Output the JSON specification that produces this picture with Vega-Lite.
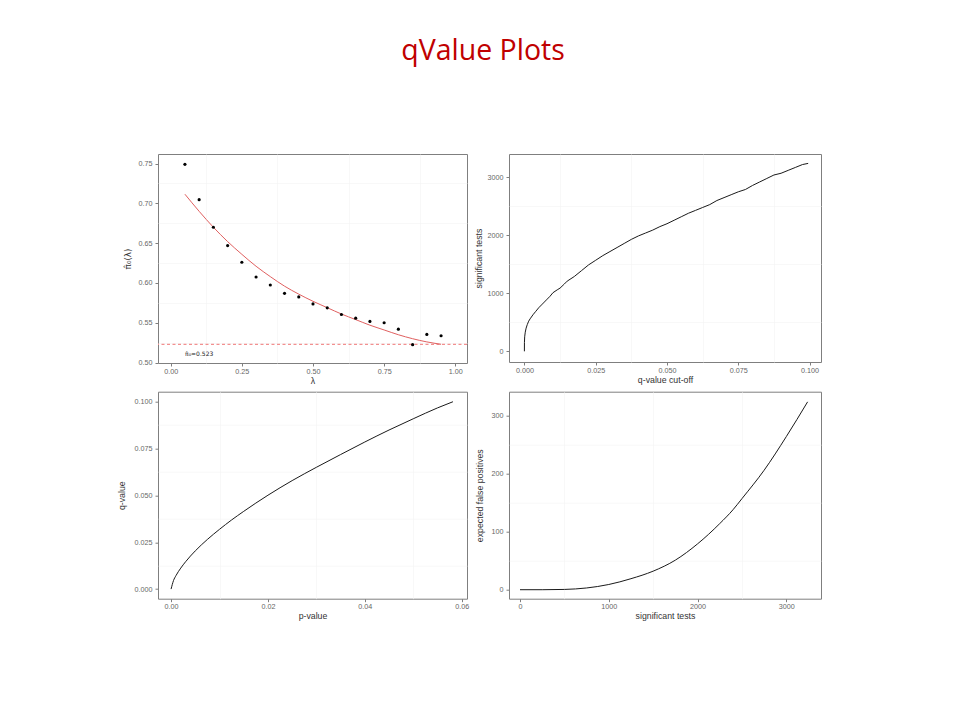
{
  "$schema": "https://vega.github.io/schema/vega-lite/v6.json",
  "background": "white",
  "padding": {"left": 116, "top": 37, "right": 5, "bottom": 5},
  "title": {"text": "qValue Plots", "font": "Open Sans", "fontSize": 28.5, "fontWeight": "normal", "color": "#C00000", "anchor": "middle", "offset": 88, "dx": 14},
  "datasets": {
    "pts": [
      {"lambda": 0.05, "pi0": 0.749}, {"lambda": 0.10, "pi0": 0.7046}, {"lambda": 0.15, "pi0": 0.670},
      {"lambda": 0.20, "pi0": 0.647}, {"lambda": 0.25, "pi0": 0.626}, {"lambda": 0.30, "pi0": 0.6075},
      {"lambda": 0.35, "pi0": 0.5975}, {"lambda": 0.40, "pi0": 0.587}, {"lambda": 0.45, "pi0": 0.5825},
      {"lambda": 0.50, "pi0": 0.5737}, {"lambda": 0.55, "pi0": 0.5688}, {"lambda": 0.60, "pi0": 0.5604},
      {"lambda": 0.65, "pi0": 0.5558}, {"lambda": 0.70, "pi0": 0.5517}, {"lambda": 0.75, "pi0": 0.5500},
      {"lambda": 0.80, "pi0": 0.542}, {"lambda": 0.85, "pi0": 0.5225}, {"lambda": 0.90, "pi0": 0.5354},
      {"lambda": 0.95, "pi0": 0.5337}
    ],
    "fit": [
      {"lambda": 0.05, "fit": 0.7115}, {"lambda": 0.10, "fit": 0.690}, {"lambda": 0.15, "fit": 0.670},
      {"lambda": 0.20, "fit": 0.652}, {"lambda": 0.25, "fit": 0.636}, {"lambda": 0.30, "fit": 0.621},
      {"lambda": 0.35, "fit": 0.608}, {"lambda": 0.40, "fit": 0.596}, {"lambda": 0.45, "fit": 0.586},
      {"lambda": 0.50, "fit": 0.577}, {"lambda": 0.55, "fit": 0.569}, {"lambda": 0.60, "fit": 0.561},
      {"lambda": 0.65, "fit": 0.554}, {"lambda": 0.70, "fit": 0.547}, {"lambda": 0.75, "fit": 0.541},
      {"lambda": 0.80, "fit": 0.535}, {"lambda": 0.85, "fit": 0.530}, {"lambda": 0.90, "fit": 0.526},
      {"lambda": 0.95, "fit": 0.523}
    ],
    "pi0hat": [{"pi0": 0.523}],
    "lab": [{"lambda": 0.1, "pi0": 0.511, "label": "π̂₀=0.523"}],
    "sig": [
      {"q": 0, "n": 0}, {"q": 0.00001, "n": 150}, {"q": 0.0001, "n": 250}, {"q": 0.0003, "n": 330},
      {"q": 0.0006, "n": 400}, {"q": 0.001, "n": 460}, {"q": 0.0015, "n": 520}, {"q": 0.002, "n": 560},
      {"q": 0.003, "n": 630}, {"q": 0.004, "n": 690}, {"q": 0.005, "n": 750}, {"q": 0.006, "n": 800},
      {"q": 0.007, "n": 850}, {"q": 0.008, "n": 900}, {"q": 0.009, "n": 950}, {"q": 0.010, "n": 1010},
      {"q": 0.0115, "n": 1060}, {"q": 0.0125, "n": 1090}, {"q": 0.014, "n": 1160}, {"q": 0.015, "n": 1210},
      {"q": 0.0175, "n": 1290}, {"q": 0.020, "n": 1390}, {"q": 0.0225, "n": 1490}, {"q": 0.025, "n": 1570},
      {"q": 0.0275, "n": 1650}, {"q": 0.030, "n": 1720}, {"q": 0.0325, "n": 1790}, {"q": 0.035, "n": 1860},
      {"q": 0.0375, "n": 1930}, {"q": 0.040, "n": 1990}, {"q": 0.0425, "n": 2040}, {"q": 0.045, "n": 2090},
      {"q": 0.0475, "n": 2150}, {"q": 0.050, "n": 2200}, {"q": 0.0525, "n": 2260}, {"q": 0.055, "n": 2320},
      {"q": 0.0575, "n": 2380}, {"q": 0.060, "n": 2430}, {"q": 0.0625, "n": 2480}, {"q": 0.065, "n": 2530},
      {"q": 0.0675, "n": 2600}, {"q": 0.070, "n": 2650}, {"q": 0.0725, "n": 2700}, {"q": 0.075, "n": 2750},
      {"q": 0.0775, "n": 2790}, {"q": 0.080, "n": 2860}, {"q": 0.0825, "n": 2920}, {"q": 0.085, "n": 2980},
      {"q": 0.0875, "n": 3040}, {"q": 0.090, "n": 3070}, {"q": 0.0925, "n": 3120}, {"q": 0.095, "n": 3170},
      {"q": 0.0975, "n": 3220}, {"q": 0.0995, "n": 3240}
    ],
    "pq": [
      {"p": 0, "q": 0}, {"p": 0.0005, "q": 0.00455}, {"p": 0.001, "q": 0.00715}, {"p": 0.002, "q": 0.0112},
      {"p": 0.003, "q": 0.0146}, {"p": 0.005, "q": 0.0204}, {"p": 0.0075, "q": 0.0265}, {"p": 0.01, "q": 0.0319},
      {"p": 0.0125, "q": 0.0369}, {"p": 0.015, "q": 0.0415}, {"p": 0.0175, "q": 0.0459}, {"p": 0.02, "q": 0.0501},
      {"p": 0.025, "q": 0.0579}, {"p": 0.03, "q": 0.0650}, {"p": 0.035, "q": 0.0718}, {"p": 0.04, "q": 0.0785},
      {"p": 0.045, "q": 0.0849}, {"p": 0.05, "q": 0.0909}, {"p": 0.055, "q": 0.0967}, {"p": 0.0582, "q": 0.1}
    ],
    "efp": [
      {"n": 0, "e": 0}, {"n": 250, "e": 0}, {"n": 500, "e": 0.5}, {"n": 750, "e": 3}, {"n": 1000, "e": 9},
      {"n": 1250, "e": 19}, {"n": 1500, "e": 32}, {"n": 1750, "e": 51}, {"n": 2000, "e": 79}, {"n": 2250, "e": 114},
      {"n": 2400, "e": 138}, {"n": 2500, "e": 157}, {"n": 2750, "e": 206}, {"n": 3000, "e": 264}, {"n": 3240, "e": 324}
    ]
  },
  "columns": 2,
  "align": "each",
  "spacing": {"row": 4.7, "column": 3},
  "concat": [
    {
      "width": 309, "height": 209,
      "resolve": {"axis": {"x": "independent", "y": "independent"}},
      "layer": [
        {
          "data": {"name": "fit"},
          "mark": {"type": "line", "opacity": 0},
          "encoding": {
            "x": {"field": "lambda", "type": "quantitative", "scale": {"domain": [-0.0446, 1.0411], "nice": false, "zero": false},
                  "axis": {"orient": "bottom", "values": [0.125, 0.375, 0.625, 0.875], "grid": true, "gridColor": "#f4f4f4", "gridWidth": 0.6, "labels": false, "ticks": false, "domain": false, "title": null}},
            "y": {"field": "fit", "type": "quantitative", "scale": {"domain": [0.4995, 0.762], "nice": false, "zero": false},
                  "axis": {"orient": "left", "values": [0.525, 0.575, 0.625, 0.675, 0.725], "grid": true, "gridColor": "#f4f4f4", "gridWidth": 0.6, "labels": false, "ticks": false, "domain": false, "title": null}}
          }
        },
        {
          "data": {"name": "pi0hat"},
          "mark": {"type": "rule", "color": "#f29090", "strokeDash": [3, 2.5], "strokeWidth": 1.3},
          "encoding": {
            "y": {"field": "pi0", "type": "quantitative", "scale": {"domain": [0.4995, 0.762], "nice": false, "zero": false}, "axis": null}
          }
        },
        {
          "data": {"name": "fit"},
          "mark": {"type": "line", "color": "#e06060", "strokeWidth": 1, "interpolate": "monotone"},
          "encoding": {
            "x": {"field": "lambda", "type": "quantitative", "scale": {"domain": [-0.0446, 1.0411], "nice": false, "zero": false},
                  "axis": {"orient": "bottom", "values": [0, 0.25, 0.5, 0.75, 1], "format": ".2f", "title": "λ"}},
            "y": {"field": "fit", "type": "quantitative", "scale": {"domain": [0.4995, 0.762], "nice": false, "zero": false},
                  "axis": {"orient": "left", "values": [0.5, 0.55, 0.6, 0.65, 0.7, 0.75], "format": ".2f", "title": "π̂₀(λ)", "titleFont": "DejaVu Sans", "minExtent": 24, "maxExtent": 24, "titlePadding": 2}}
          }
        },
        {
          "data": {"name": "pts"},
          "mark": {"type": "point", "filled": true, "color": "black", "size": 10, "opacity": 1},
          "encoding": {
            "x": {"field": "lambda", "type": "quantitative", "scale": {"domain": [-0.0446, 1.0411], "nice": false, "zero": false}, "axis": null},
            "y": {"field": "pi0", "type": "quantitative", "scale": {"domain": [0.4995, 0.762], "nice": false, "zero": false}, "axis": null}
          }
        },
        {
          "data": {"name": "lab"},
          "mark": {"type": "text", "font": "DejaVu Sans", "fontSize": 6, "color": "#222222", "align": "center", "baseline": "middle"},
          "encoding": {
            "x": {"field": "lambda", "type": "quantitative", "scale": {"domain": [-0.0446, 1.0411], "nice": false, "zero": false}, "axis": null},
            "y": {"field": "pi0", "type": "quantitative", "scale": {"domain": [0.4995, 0.762], "nice": false, "zero": false}, "axis": null},
            "text": {"field": "label"}
          }
        }
      ]
    },
    {
      "width": 312, "height": 208,
      "resolve": {"axis": {"x": "independent", "y": "independent"}},
      "data": {"name": "sig"},
      "layer": [
        {
          "mark": {"type": "line", "opacity": 0},
          "encoding": {
            "x": {"field": "q", "type": "quantitative", "scale": {"domain": [-0.0054, 0.104], "nice": false, "zero": false},
                  "axis": {"orient": "bottom", "values": [0.0125, 0.0375, 0.0625, 0.0875], "grid": true, "gridColor": "#f4f4f4", "gridWidth": 0.6, "labels": false, "ticks": false, "domain": false, "title": null}},
            "y": {"field": "n", "type": "quantitative", "scale": {"domain": [-184, 3402], "nice": false, "zero": false},
                  "axis": {"orient": "left", "values": [500, 1500, 2500], "grid": true, "gridColor": "#f4f4f4", "gridWidth": 0.6, "labels": false, "ticks": false, "domain": false, "title": null}}
          }
        },
        {
          "mark": {"type": "line", "color": "#1a1a1a", "strokeWidth": 1},
          "encoding": {
            "x": {"field": "q", "type": "quantitative", "scale": {"domain": [-0.0054, 0.104], "nice": false, "zero": false},
                  "axis": {"orient": "bottom", "values": [0, 0.025, 0.05, 0.075, 0.1], "format": ".3f", "title": "q-value cut-off"}},
            "y": {"field": "n", "type": "quantitative", "scale": {"domain": [-184, 3402], "nice": false, "zero": false},
                  "axis": {"orient": "left", "values": [0, 1000, 2000, 3000], "format": "d", "title": "significant tests", "titlePadding": 4}}
          }
        }
      ]
    },
    {
      "width": 309, "height": 207,
      "resolve": {"axis": {"x": "independent", "y": "independent"}},
      "data": {"name": "pq"},
      "layer": [
        {
          "mark": {"type": "line", "opacity": 0},
          "encoding": {
            "x": {"field": "p", "type": "quantitative", "scale": {"domain": [-0.0027, 0.0611], "nice": false, "zero": false},
                  "axis": {"orient": "bottom", "values": [0.01, 0.03, 0.05], "grid": true, "gridColor": "#f4f4f4", "gridWidth": 0.6, "labels": false, "ticks": false, "domain": false, "title": null}},
            "y": {"field": "q", "type": "quantitative", "scale": {"domain": [-0.00513, 0.10535], "nice": false, "zero": false},
                  "axis": {"orient": "left", "values": [0.0125, 0.0375, 0.0625, 0.0875], "grid": true, "gridColor": "#f4f4f4", "gridWidth": 0.6, "labels": false, "ticks": false, "domain": false, "title": null}}
          }
        },
        {
          "mark": {"type": "line", "color": "#1a1a1a", "strokeWidth": 1, "interpolate": "monotone"},
          "encoding": {
            "x": {"field": "p", "type": "quantitative", "scale": {"domain": [-0.0027, 0.0611], "nice": false, "zero": false},
                  "axis": {"orient": "bottom", "values": [0, 0.02, 0.04, 0.06], "format": ".2f", "title": "p-value"}},
            "y": {"field": "q", "type": "quantitative", "scale": {"domain": [-0.00513, 0.10535], "nice": false, "zero": false},
                  "axis": {"orient": "left", "values": [0, 0.025, 0.05, 0.075, 0.1], "format": ".3f", "title": "q-value", "minExtent": 24, "maxExtent": 24, "titlePadding": 8}}
          }
        }
      ]
    },
    {
      "width": 312, "height": 207,
      "resolve": {"axis": {"x": "independent", "y": "independent"}},
      "data": {"name": "efp"},
      "layer": [
        {
          "mark": {"type": "line", "opacity": 0},
          "encoding": {
            "x": {"field": "n", "type": "quantitative", "scale": {"domain": [-124, 3391], "nice": false, "zero": false},
                  "axis": {"orient": "bottom", "values": [500, 1500, 2500], "grid": true, "gridColor": "#f4f4f4", "gridWidth": 0.6, "labels": false, "ticks": false, "domain": false, "title": null}},
            "y": {"field": "e", "type": "quantitative", "scale": {"domain": [-15.5, 341.5], "nice": false, "zero": false},
                  "axis": {"orient": "left", "values": [50, 150, 250], "grid": true, "gridColor": "#f4f4f4", "gridWidth": 0.6, "labels": false, "ticks": false, "domain": false, "title": null}}
          }
        },
        {
          "mark": {"type": "line", "color": "#1a1a1a", "strokeWidth": 1, "interpolate": "monotone"},
          "encoding": {
            "x": {"field": "n", "type": "quantitative", "scale": {"domain": [-124, 3391], "nice": false, "zero": false},
                  "axis": {"orient": "bottom", "values": [0, 1000, 2000, 3000], "format": "d", "title": "significant tests"}},
            "y": {"field": "e", "type": "quantitative", "scale": {"domain": [-15.5, 341.5], "nice": false, "zero": false},
                  "axis": {"orient": "left", "values": [0, 100, 200, 300], "format": "d", "title": "expected false positives", "titlePadding": 7}}
          }
        }
      ]
    }
  ],
  "config": {
    "view": {"stroke": "#7f7f7f", "strokeWidth": 1},
    "axis": {
      "labelFont": "Liberation Sans", "labelFontSize": 7.2, "labelColor": "#666666",
      "titleFont": "Liberation Sans", "titleFontSize": 8.75, "titleFontWeight": "normal", "titleColor": "#333333",
      "domain": false, "tickColor": "#7f7f7f", "tickSize": 3, "tickWidth": 1, "labelPadding": 3,
      "gridColor": "#ebebeb", "gridWidth": 0.8
    },
    "axisX": {"labelPadding": 1, "titlePadding": 2}
  }
}
